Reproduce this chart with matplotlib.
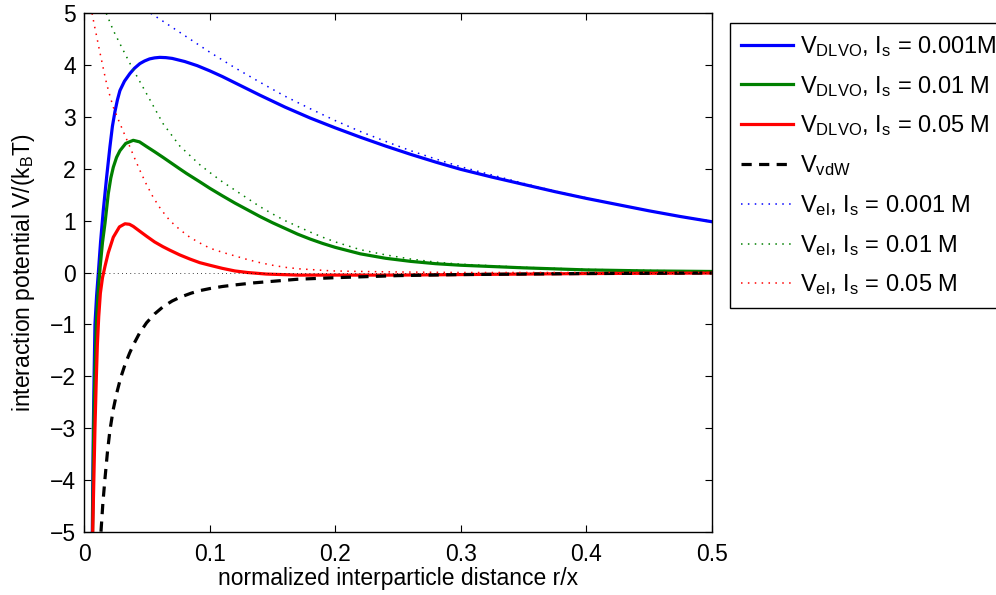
import matplotlib
matplotlib.use('Agg')
from matplotlib import pyplot as plt

plt.rcParams['font.family'] = ['Liberation Sans', 'DejaVu Sans']
plt.rcParams['mathtext.default'] = 'regular'
plt.rcParams['font.size'] = 16.5

# DLVO total potential, I_s = 0.001 M
x_dlvo_001 = [0.0064, 0.0068, 0.0072, 0.0078, 0.0085, 0.0098, 0.0112, 0.0130, 0.0151,
              0.0178, 0.0204, 0.0224, 0.0244, 0.0264, 0.0284, 0.0320, 0.0364, 0.0400,
              0.0443, 0.0480, 0.0520, 0.0560, 0.0602, 0.0650, 0.070, 0.080, 0.090,
              0.100, 0.110, 0.120, 0.140, 0.160, 0.180, 0.200, 0.220, 0.240,
              0.260, 0.280, 0.300, 0.325, 0.350, 0.375, 0.400, 0.425, 0.450, 0.475, 0.500]
v_dlvo_001 = [-5.0, -4.0, -3.0, -2.0, -1.0, -0.45, 0.0, 0.60, 1.19,
              1.84, 2.42, 2.82, 3.10, 3.33, 3.51, 3.69, 3.84, 3.94,
              4.03, 4.08, 4.12, 4.14, 4.15, 4.145, 4.13, 4.07, 3.99,
              3.89, 3.78, 3.66, 3.42, 3.19, 2.98, 2.79, 2.61, 2.44,
              2.28, 2.13, 1.99, 1.84, 1.70, 1.56, 1.43, 1.31, 1.19, 1.08, 0.98]

# DLVO total potential, I_s = 0.01 M
x_dlvo_01 = [0.0066, 0.0075, 0.0084, 0.0096, 0.0110, 0.0126, 0.0145, 0.0165, 0.0191,
             0.0211, 0.0231, 0.0257, 0.0284, 0.0330, 0.0390, 0.0440, 0.0496, 0.0560,
             0.0628, 0.0700, 0.0760, 0.0815, 0.0920, 0.100, 0.110, 0.120, 0.130,
             0.140, 0.150, 0.160, 0.170, 0.180, 0.190, 0.200, 0.220, 0.240, 0.260,
             0.280, 0.300, 0.350, 0.400, 0.450, 0.500]
v_dlvo_01 = [-5.0, -3.0, -2.0, -1.0, -0.4, 0.1, 0.58, 0.95, 1.52,
             1.82, 2.03, 2.22, 2.35, 2.49, 2.55, 2.52, 2.43, 2.33,
             2.22, 2.10, 2.00, 1.91, 1.75, 1.625, 1.48, 1.34, 1.21,
             1.08, 0.96, 0.85, 0.74, 0.645, 0.56, 0.485, 0.36, 0.275, 0.215,
             0.17, 0.14, 0.09, 0.05, 0.03, 0.02]

# DLVO total potential, I_s = 0.05 M
x_dlvo_05 = [0.0067, 0.0076, 0.0085, 0.0095, 0.0104, 0.0115, 0.0128, 0.0145, 0.0165,
             0.0191, 0.0231, 0.0280, 0.0324, 0.0360, 0.0390, 0.0440, 0.0496, 0.0560,
             0.0625, 0.0682, 0.0760, 0.0841, 0.0920, 0.100, 0.110, 0.120, 0.130,
             0.145, 0.170, 0.200, 0.250, 0.300, 0.400, 0.500]
v_dlvo_05 = [-5.0, -4.0, -3.0, -2.1, -1.4, -0.85, -0.4, -0.1, 0.12,
             0.38, 0.68, 0.88, 0.94, 0.93, 0.89, 0.80, 0.70, 0.59,
             0.50, 0.43, 0.34, 0.26, 0.19, 0.14, 0.08, 0.03, 0.0,
             -0.03, -0.05, -0.05, -0.05, -0.04, -0.02, -0.01]

# van der Waals attraction
x_vdw = [0.0133, 0.0148, 0.0165, 0.0185, 0.0204, 0.0230, 0.0258, 0.0290, 0.0324,
         0.0360, 0.0390, 0.0440, 0.0496, 0.0560, 0.0628, 0.0700, 0.0761, 0.0850,
         0.0920, 0.100, 0.110, 0.120, 0.135, 0.150, 0.170, 0.200, 0.250, 0.300,
         0.350, 0.400, 0.500]
v_vdw = [-5.0, -4.45, -3.97, -3.45, -3.05, -2.65, -2.33, -2.03, -1.78,
         -1.56, -1.40, -1.17, -0.97, -0.80, -0.66, -0.55, -0.48, -0.40,
         -0.35, -0.31, -0.27, -0.24, -0.20, -0.17, -0.13, -0.10, -0.06, -0.04,
         -0.03, -0.02, -0.01]

# electrostatic repulsion
x_el_001 = [0.053, 0.060, 0.070, 0.080, 0.090, 0.100, 0.120, 0.140, 0.160, 0.180,
            0.200, 0.220, 0.240, 0.260, 0.280, 0.300, 0.325, 0.350, 0.375, 0.400,
            0.425, 0.450, 0.475, 0.500]
v_el_001 = [5.0, 4.89, 4.73, 4.57, 4.41, 4.25, 3.95, 3.67, 3.40, 3.16,
            2.93, 2.72, 2.53, 2.35, 2.19, 2.04, 1.88, 1.72, 1.57, 1.44,
            1.31, 1.19, 1.08, 0.99]

x_el_01 = [0.0175, 0.0231, 0.0297, 0.0377, 0.0496, 0.0628, 0.0761, 0.0920, 0.100,
           0.110, 0.120, 0.130, 0.140, 0.150, 0.160, 0.170, 0.180, 0.190, 0.200,
           0.220, 0.240, 0.260, 0.280, 0.300, 0.350, 0.400, 0.450, 0.500]
v_el_01 = [5.0, 4.67, 4.35, 3.97, 3.45, 2.87, 2.44, 2.08, 1.93,
           1.75, 1.59, 1.43, 1.27, 1.13, 1.00, 0.89, 0.78, 0.68, 0.59,
           0.44, 0.34, 0.26, 0.20, 0.16, 0.10, 0.06, 0.04, 0.02]

x_el_05 = [0.0062, 0.0080, 0.0099, 0.0118, 0.0138, 0.0158, 0.0178, 0.0205, 0.0231,
           0.0264, 0.0297, 0.0330, 0.0364, 0.0400, 0.0443, 0.0495, 0.0549, 0.0610,
           0.0682, 0.0760, 0.0841, 0.0920, 0.100, 0.110, 0.120, 0.130, 0.140,
           0.150, 0.160, 0.1716, 0.185, 0.198, 0.220, 0.250, 0.300, 0.500]
v_el_05 = [5.0, 4.77, 4.55, 4.32, 4.09, 3.86, 3.64, 3.40, 3.19,
           2.99, 2.80, 2.61, 2.42, 2.21, 1.97, 1.70, 1.45, 1.22,
           1.00, 0.83, 0.68, 0.57, 0.47, 0.39, 0.32, 0.25, 0.19,
           0.14, 0.10, 0.07, 0.05, 0.03, 0.02, 0.01, 0.0, 0.0]

x_ticks = [0, 0.1, 0.2, 0.3, 0.4, 0.5]
x_tick_labels = ['0', '0.1', '0.2', '0.3', '0.4', '0.5']
y_ticks = [-5, -4, -3, -2, -1, 0, 1, 2, 3, 4, 5]

labels = [
    r'V$_{DLVO}$, I$_s$ = 0.001M',
    r'V$_{DLVO}$, I$_s$ = 0.01 M',
    r'V$_{DLVO}$, I$_s$ = 0.05 M',
    r'V$_{vdW}$',
    r'V$_{el}$, I$_s$ = 0.001 M',
    r'V$_{el}$, I$_s$ = 0.01 M',
    r'V$_{el}$, I$_s$ = 0.05 M',
]

fig = plt.figure(figsize=(9.96, 5.95), dpi=100)
ax = fig.add_axes([84.3 / 996, 1 - 531.7 / 595, 627.4 / 996, 518.4 / 595])

solid = {'linewidth': 2.3, 'solid_joinstyle': 'round'}
dotted = {'linewidth': 1.1, 'linestyle': (0, (1, 3.5))}

ax.plot(x_dlvo_001, v_dlvo_001, color='#0000ff', label=labels[0], **solid)
ax.plot(x_dlvo_01, v_dlvo_01, color='#008000', label=labels[1], **solid)
ax.plot(x_dlvo_05, v_dlvo_05, color='#ff0000', label=labels[2], **solid)
ax.plot(x_vdw, v_vdw, color='black', linewidth=2.3, linestyle=(0, (3.2, 2.3)), label=labels[3])
ax.plot(x_el_001, v_el_001, color='#0000ff', label=labels[4], **dotted)
ax.plot(x_el_01, v_el_01, color='#008000', label=labels[5], **dotted)
ax.plot(x_el_05, v_el_05, color='#ff0000', label=labels[6], **dotted)

# zero reference
ax.plot([0, 0.5], [0, 0], color='black', linewidth=0.6, linestyle=(0, (1, 4)))

ax.set_xlim(0, 0.5)
ax.set_ylim(-5, 5)
ax.set_xticks(x_ticks)
ax.set_xticklabels(x_tick_labels)
ax.set_yticks(y_ticks)
ax.tick_params(direction='in', top=True, right=True, length=5, width=0.8, pad=6)
ax.tick_params(axis='x', pad=8)
for spine in ax.spines.values():
    spine.set_linewidth(1.0)

ax.set_xlabel('normalized interparticle distance r/x', labelpad=1)
ax.set_ylabel(r'interaction potential V/(k$_B$T)', labelpad=9)

leg = ax.legend(loc='upper left', bbox_to_anchor=(730 / 996, 1 - 23.3 / 595),
                bbox_transform=fig.transFigure, fancybox=False, framealpha=1,
                edgecolor='black', handlelength=2.2, handletextpad=0.3,
                labelspacing=0.63, borderpad=0.45, borderaxespad=0,
                prop={'size': 17})
leg.get_frame().set_linewidth(1.0)

fig.savefig('out.png', dpi=100)
